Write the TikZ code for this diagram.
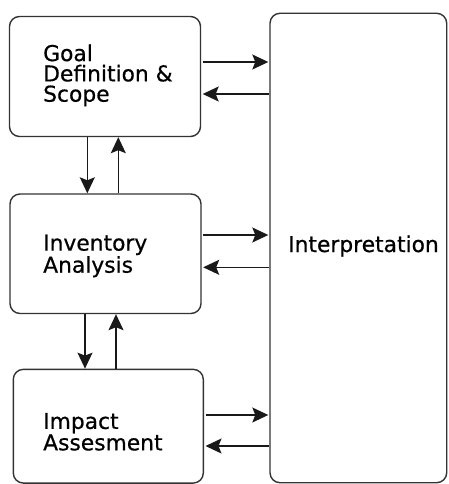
\documentclass[tikz,border=0pt]{standalone}
\usepackage{fontspec}
\setmainfont{DejaVu Sans}
\newfontfamily\lblfont[FakeBold=0.6]{DejaVu Sans}
\usetikzlibrary{arrows.meta}
\begin{document}
\begin{tikzpicture}[x=1pt,y=-1pt,
  box/.style={draw=black!80, line width=1.4pt, rounded corners=10pt, inner sep=0pt},
  lbl/.style={inner sep=0pt, font=\lblfont\fontsize{21.8}{20.3}\selectfont, align=left},
  arr/.style={draw=black!90, line width=1.3pt, -{Stealth[length=16pt,width=15pt,inset=3pt]}}]
\useasboundingbox (0,0) rectangle (448,484);
% boxes
\node[box, minimum width=191pt, minimum height=120pt] (g) at (105,76.5) {};
\node[box, minimum width=191pt, minimum height=119.5pt] (i) at (105.5,253.75) {};
\node[box, minimum width=190pt, minimum height=113.7pt] (a) at (108.3,426.2) {};
\node[box, minimum width=176.7pt, minimum height=469.4pt] (p) at (358.35,248) {};
% texts
\node[lbl, anchor=north west] (gt) at (43,44.3) {Goal\\Definition \&\\Scope};
\node[lbl, anchor=north west] (it) at (43,234.5) {Inventory\\Analysis};
\node[lbl, anchor=north west] (at) at (43,412.8) {Impact\\Assesment};
\node[lbl, anchor=base west] (pt) at (288,252) {Interpretation};
% horizontal arrows
\draw[arr, shorten <=1.5pt, shorten >=1pt] (g.east |- 0,62) -- (p.west |- 0,62);
\draw[arr, shorten >=1.5pt] (p.west |- 0,94) -- (g.east |- 0,94);
\draw[arr, shorten <=1.5pt, shorten >=1pt] (i.east |- 0,235) -- (p.west |- 0,235);
\draw[arr, shorten >=1.5pt] (p.west |- 0,267.3) -- (i.east |- 0,267.3);
\draw[arr, shorten <=1.5pt, shorten >=1pt] (a.east |- 0,415) -- (p.west |- 0,415);
\draw[arr, shorten >=1.5pt] (p.west |- 0,446) -- (a.east |- 0,446);
% vertical arrows
\draw[arr] (87.3,0 |- g.south) -- (87.3,0 |- i.north);
\draw[arr] (118.3,0 |- i.north) -- (118.3,0 |- g.south);
\draw[arr] (85,0 |- i.south) -- (85,0 |- a.north);
\draw[arr] (116,0 |- a.north) -- (116,0 |- i.south);
\end{tikzpicture}
\end{document}
